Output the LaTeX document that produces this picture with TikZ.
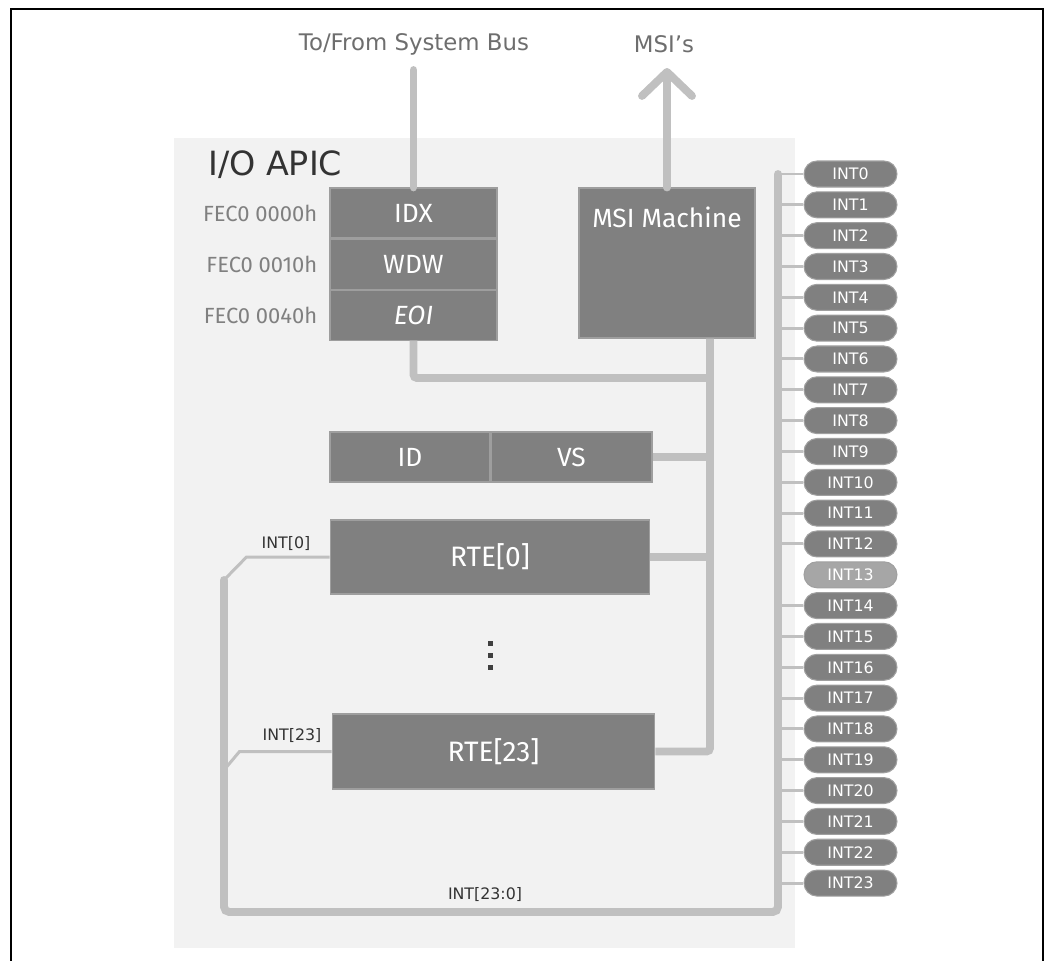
\documentclass[tikz,border=0pt]{standalone}
\usepackage{fontspec}
\setmainfont{DejaVu Sans}
\newfontfamily\regfont{Fira Sans}
\usepackage{tikz}
\usetikzlibrary{arrows.meta, positioning, shapes.misc}

\definecolor{panelgray}{HTML}{F2F2F2}
\definecolor{boxgray}{HTML}{808080}
\definecolor{boxedge}{HTML}{9E9E9E}
\definecolor{pilledge}{HTML}{A0A0A0}
\definecolor{pilloff}{HTML}{A6A6A6}
\definecolor{busgray}{HTML}{C0C0C0}
\definecolor{toptext}{HTML}{6E6E6E}
\definecolor{addrgray}{HTML}{808080}
\definecolor{sigtext}{HTML}{333333}
\definecolor{dotgray}{HTML}{404040}

\begin{document}
\begin{tikzpicture}[
    x=0.02cm, y=-0.02cm,
    font=\fontsize{13}{15}\selectfont,
    regbox/.style={
        draw=boxedge,
        fill=boxgray,
        text=white,
        line width=0.6pt,
        inner sep=0pt,
        minimum height=1cm,
        font=\regfont\fontsize{15}{18}\selectfont
    },
    addr/.style={
        text=addrgray,
        font=\regfont\fontsize{12.5}{14}\selectfont
    },
    pill/.style={
        rounded rectangle,
        draw=pilledge,
        fill=boxgray,
        text=white,
        line width=0.6pt,
        minimum width=1.86cm,
        minimum height=0.52cm,
        inner sep=0pt,
        font=\fontsize{9}{10}\selectfont
    },
    sig/.style={
        text=sigtext,
        font=\fontsize{9}{10}\selectfont
    },
    bus/.style={
        draw=busgray,
        line width=4.5pt
    },
    tap/.style={
        draw=busgray,
        line width=1.7pt
    }
]

\useasboundingbox (0,0) rectangle (1056,961);

% Frame and panel
\draw[line width=1.7pt] (11,961) -- (11,9) -- (1043,9) -- (1043,961);
\fill[panelgray] (174,138) rectangle (795,948);

% Outside labels
\node[text=toptext] (bustext) at (414,44) {To/From System Bus};
\node[text=toptext] (msitext) at (664,44) {MSI’s};

\node[anchor=west, text=sigtext, font=\fontsize{19}{22}\selectfont] (apic) at (202,165) {I/O APIC};

% Register window
\node[regbox, minimum width=3.34cm] (idx) at (413.5,213) {IDX};
\node[regbox, minimum width=3.34cm, below=0pt of idx] (wdw) {WDW};
\node[regbox, minimum width=3.34cm, below=0pt of wdw] (eoi) {\itshape EOI};

\node[addr, left=0.12cm of idx] (aidx) {FEC0 0000h};
\node[addr, left=0.12cm of wdw] (awdw) {FEC0 0010h};
\node[addr, left=0.12cm of eoi] (aeoi) {FEC0 0040h};

% MSI machine
\node[regbox, minimum width=3.52cm, minimum height=3cm,
    label={[text=white, font=\regfont\fontsize{15}{18}\selectfont,
        anchor=center, yshift=-0.6cm]north:MSI Machine}] (msi) at (667,263) {};

% ID / VS and redirection table
\node[regbox, minimum width=3.2cm] (id) at (410,457) {ID};
\node[regbox, minimum width=3.22cm, right=0pt of id] (vs) {VS};

\node[regbox, minimum width=6.4cm, minimum height=1.48cm,
    font=\regfont\fontsize{16}{19}\selectfont] (rte0) at (490,557) {RTE[0]};
\node[regbox, minimum width=6.46cm, minimum height=1.5cm,
    font=\regfont\fontsize{16}{19}\selectfont] (rte23) at (493.5,751.5) {RTE[23]};

\foreach \y in {643,655,667}
    \fill[dotgray] (487.5,\y-2.5) rectangle (492.5,\y+2.5);

% Internal bus
\coordinate (join) at (710,378);
\draw[bus, rounded corners=2pt] (eoi.south) -- (eoi.south |- join) -- (join);
\draw[bus, rounded corners=2pt] (msi.south -| join) -- (rte23.east -| join) -- (rte23.east);
\draw[bus] (vs.east) -- (vs.east -| join);
\draw[bus] (rte0.east) -- (rte0.east -| join);

% System bus and MSI output
\coordinate (busin) at (413.5,70);
\coordinate (msiout) at (667,68);
\draw[bus, line cap=round] (busin) -- (idx.north);
\draw[bus, line cap=round, -{Straight Barb[round, length=0.48cm, width=1.0cm]}] (msi.north) -- (msiout);

% Interrupt pins
\foreach \i in {0,...,23}{
    \ifnum\i=13 \def\pillfill{pilloff}\else\def\pillfill{boxgray}\fi
    \node[pill, fill=\pillfill] (int\i) at (850.5,{174+30.83*\i}) {INT\i};
}

\coordinate (intin0) at (224,580);
\coordinate (intin23) at (224,770);
\coordinate (lcorner) at (224,912);
\coordinate (rcorner) at (778,912);

\draw[bus, line cap=round, rounded corners=3pt]
    (intin0) -- (lcorner) -- (rcorner) -- (int0.west -| rcorner);

\foreach \i in {0,...,12,14,15,...,23}
    \draw[tap] (int\i.west) -- (int\i.west -| rcorner);

\draw[tap] (rte0.west) -- ++(-1.66cm,0) -- (intin0);
\draw[tap] (rte23.west) -- ++(-1.84cm,0) -- (intin23);

\node[sig] (lint0) at (286,544) {INT[0]};
\node[sig] (lint23) at (292,736) {INT[23]};
\node[sig] (lintall) at (485,895) {INT[23:0]};

\end{tikzpicture}
\end{document}
